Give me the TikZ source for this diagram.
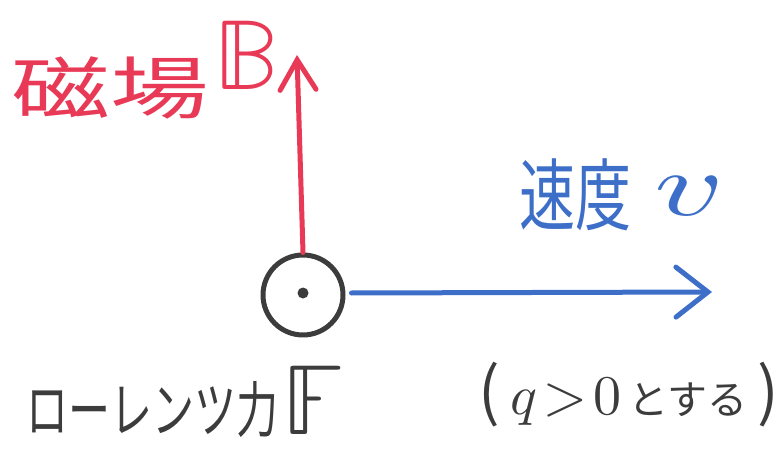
\documentclass[tikz,border=0pt]{standalone}
\usepackage{fontspec}
\usepackage{unicode-math}
\setmainfont{Noto Sans CJK JP}
\setmathfont{Latin Modern Math}
\usetikzlibrary{arrows.meta}
\definecolor{penred}{HTML}{E83A56}
\definecolor{penblue}{HTML}{3D6FC8}
\definecolor{pengray}{HTML}{3C3C3C}
\begin{document}
\begin{tikzpicture}[x=1pt,y=1pt,
  pen/.style={line width=5pt, line cap=round, line join=round},
  lbl/.style={inner sep=0pt, anchor=center}]
\useasboundingbox (0,0) rectangle (782,448);
% circle (force out of page)
\node[pen, draw=pengray, circle, minimum size=80pt, inner sep=0pt] (F) at (303,153) {};
\node[fill=pengray, circle, minimum size=11pt, inner sep=0pt] (dot) at (303,155) {};
% magnetic field arrow
\coordinate (Btip) at (297,393);
\draw[pen, penred, -{Straight Barb[length=30pt,width=36pt,line cap=round]}] (F.north) -- (Btip);
% velocity arrow
\coordinate (vtip) at (712,156);
\draw[pen, penblue, -{Straight Barb[length=32pt,width=50pt,line cap=round]}] (F.east) ++(6,2) coordinate (vs) (vs) -- (vtip);
% labels
\node[lbl, text=penred, font=\fontsize{68}{68}\selectfont, xscale=1.45, transform shape] (mag) at (110,360) {磁場};
\node[lbl, text=penred, font=\fontsize{100}{100}\selectfont] (B) at (246,393) {$\mathbb{B}$};
\node[lbl, text=penblue, font=\fontsize{56}{56}\selectfont, yscale=1.4, transform shape] (vel) at (575,253) {速度};
\node[lbl, text=penblue, font=\fontsize{90}{90}\selectfont, xscale=1.5, transform shape] (v) at (688,252) {$v$};
\node[lbl, text=pengray, font=\fontsize{42}{42}\selectfont, yscale=1.45, transform shape] (lor) at (153,38) {ローレンツ力};
\node[lbl, text=pengray, font=\fontsize{100}{100}\selectfont] (Fl) at (313,48) {$\mathbb{F}$};
\node[lbl, text=pengray, font=\fontsize{44}{44}\selectfont] (cond) at (629,53) {\fontsize{64}{64}\selectfont(\,\fontsize{56}{56}\selectfont$q\!>\!0$\fontsize{40}{40}\selectfont\,とする\fontsize{64}{64}\selectfont\,)};
\end{tikzpicture}
\end{document}
